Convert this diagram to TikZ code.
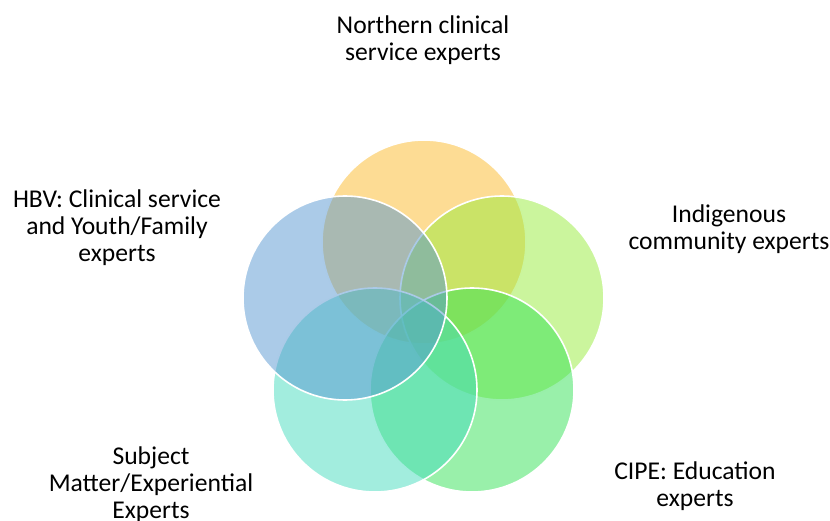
\documentclass[tikz,border=0pt]{standalone}
\usepackage{fontspec}
\setmainfont{Carlito}
\definecolor{cTop}{RGB}{251,185,41}
\definecolor{cRight}{RGB}{151,235,59}
\definecolor{cBotR}{RGB}{51,225,85}
\definecolor{cBotL}{RGB}{69,219,189}
\definecolor{cLeft}{RGB}{87,151,209}
\begin{document}
\begin{tikzpicture}[x=1pt,y=-1pt]
		\tikzstyle{ring}=[draw=white,line width=1.6pt,fill opacity=.5]
		\tikzstyle{lbl}=[align=center,inner sep=0pt,font=\fontsize{25.6}{27}\selectfont]

		\useasboundingbox (0,0) rectangle (830,521);

		\foreach \x / \y / \c in {424/242/cTop,502/298/cRight,472/390/cBotR,375/390/cBotL,345/298/cLeft} { \draw[ring,fill=\c] (\x,\y) circle (102pt);}

		\node[lbl] (north) at (423,40) {Northern clinical\\service experts};
		\node[lbl] (hbv) at (117,228) {HBV: Clinical service\\and Youth/Family\\experts};
		\node[lbl] (indig) at (729,229) {Indigenous\\community experts};
		\node[lbl] (sme) at (151,485) {Subject\\Matter/Experiential\\Experts};
		\node[lbl] (cipe) at (695,486) {CIPE: Education\\experts};
	\end{tikzpicture}
\end{document}
